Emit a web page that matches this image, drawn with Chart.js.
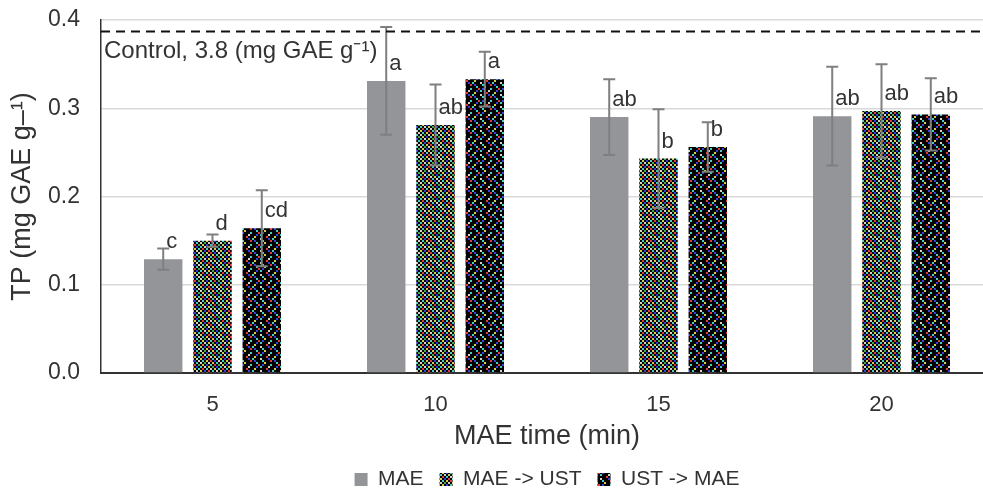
<!DOCTYPE html>
<html>
<head>
<meta charset="utf-8">
<script src="https://cdn.jsdelivr.net/npm/chart.js@4.4.1/dist/chart.umd.min.js"></script>
<style>
  html, body { margin: 0; padding: 0; background: #fff; overflow: hidden; }
  #wrap { width: 983px; height: 493px; overflow: hidden; }
</style>
</head>
<body>
<div id="wrap"><canvas id="tpChart" width="1100" height="500"></canvas></div>
<script>
const categories = ['5', '10', '15', '20'];
const seriesNames = ['MAE', 'MAE -> UST', 'UST -> MAE'];
const maeValues = [0.129, 0.331, 0.290, 0.291];
const maeUstValues = [0.150, 0.281, 0.243, 0.297];
const ustMaeValues = [0.164, 0.333, 0.256, 0.293];
const maeErrors = [0.012, 0.061, 0.043, 0.056];
const maeUstErrors = [0.007, 0.046, 0.056, 0.053];
const ustMaeErrors = [0.043, 0.031, 0.028, 0.041];
const maeLetters = ['c', 'a', 'ab', 'ab'];
const maeUstLetters = ['d', 'ab', 'b', 'ab'];
const ustMaeLetters = ['cd', 'a', 'b', 'ab'];
const yTicks = [0, 0.1, 0.2, 0.3, 0.4];
const controlValue = 0.387;
const controlText = 'Control, 3.8 (mg GAE g\u207B\u00B9)';

const FONT = "'Liberation Sans', Arial, sans-serif";
const TEXT = '#333333';

// little noisy tiles that mimic the coloured hatch of the original
const pal = { k: '#000000', c: '#45d0c4', y: '#d6cf45', r: '#e23a3a', b: '#3a3ee0', w: '#d9d2c4', g: '#3fae4a' };
function makePattern(rows) {
    const cell = 2;
    const c = document.createElement('canvas');
    c.width = rows[0].length * cell;
    c.height = rows.length * cell;
    const g = c.getContext('2d');
    rows.forEach((r, i) => {
        [...r].forEach((ch, j) => {
            g.fillStyle = pal[ch];
            g.fillRect(j * cell, i * cell, cell, cell);
        });
    });
    return g.createPattern(c, 'repeat');
}
const patA = makePattern([
    'kckykrkbkw',
    'wkgkwkykck',
    'kykbkckrkg',
    'ckwkykgkbk',
    'krkckwkykc',
    'ykbkrkckwk'
]);
const patB = makePattern([
    'kckkkrkbkk',
    'kkykkkkkck',
    'kbkkkckkkr',
    'ckkkwkkkbk',
    'kkkrkkkykk',
    'wkkkbkckkk'
]);

const errorSets = [maeErrors, maeUstErrors, ustMaeErrors];
const letterSets = [maeLetters, maeUstLetters, ustMaeLetters];

const extrasPlugin = {
    id: 'extras',
    afterDatasetsDraw(chart) {
        const ctx = chart.ctx;
        const y = chart.scales.y;
        const area = chart.chartArea;
        ctx.save();
        // error bars
        ctx.strokeStyle = '#7f7f7f';
        ctx.lineWidth = 2;
        chart.data.datasets.forEach((ds, di) => {
            const meta = chart.getDatasetMeta(di);
            meta.data.forEach((bar, i) => {
                const v = ds.data[i];
                const e = errorSets[di][i];
                const yt = y.getPixelForValue(v + e);
                const yb = y.getPixelForValue(v - e);
                ctx.beginPath();
                ctx.moveTo(bar.x, yt); ctx.lineTo(bar.x, yb);
                ctx.moveTo(bar.x - 6, yt); ctx.lineTo(bar.x + 6, yt);
                ctx.moveTo(bar.x - 6, yb); ctx.lineTo(bar.x + 6, yb);
                ctx.stroke();
            });
        });
        // significance letters
        ctx.fillStyle = TEXT;
        ctx.font = '22px ' + FONT;
        ctx.textAlign = 'left';
        ctx.textBaseline = 'alphabetic';
        chart.data.datasets.forEach((ds, di) => {
            const meta = chart.getDatasetMeta(di);
            meta.data.forEach((bar, i) => {
                ctx.fillText(letterSets[di][i], bar.x + 3, bar.y - 11);
            });
        });
        // control line
        const yc = y.getPixelForValue(controlValue);
        ctx.strokeStyle = '#111';
        ctx.lineWidth = 2;
        ctx.setLineDash([9, 6]);
        ctx.beginPath();
        ctx.moveTo(area.left, yc);
        ctx.lineTo(area.right, yc);
        ctx.stroke();
        ctx.setLineDash([]);
        ctx.font = '24px ' + FONT;
        ctx.fillText(controlText, area.left + 3, yc + 27);
        ctx.restore();
    }
};

const tpCtx = document.getElementById('tpChart').getContext('2d');
const tpChart = new Chart(tpCtx, {
    type: 'bar',
    data: {
        labels: categories,
        datasets: [
            { label: seriesNames[0], data: maeValues, backgroundColor: '#939598' },
            { label: seriesNames[1], data: maeUstValues, backgroundColor: patA },
            { label: seriesNames[2], data: ustMaeValues, backgroundColor: patB }
        ]
    },
    options: {
        responsive: false,
        animation: false,
        categoryPercentage: 0.663,
        barPercentage: 0.78,
        layout: { padding: { top: 20, right: 107, bottom: 0, left: 0 } },
        scales: {
            x: {
                grid: { display: false },
                border: { color: '#333', width: 2 },
                ticks: { color: TEXT, font: { family: FONT, size: 22 }, padding: 11 },
                title: { display: true, text: 'MAE time (min)', color: TEXT, font: { family: FONT, size: 27 }, padding: { top: 2, bottom: 0 } },
                afterFit(scale) { scale.height = 80; }
            },
            y: {
                min: 0,
                max: 0.4,
                grid: { color: '#d9d9d9', lineWidth: 1.5, drawTicks: true, tickLength: 19, tickColor: 'rgba(0,0,0,0)' },
                border: { color: '#333', width: 1.5 },
                afterBuildTicks(scale) { scale.ticks = yTicks.map(v => ({ value: v })); },
                ticks: {
                    color: TEXT,
                    font: { family: FONT, size: 23 },
                    padding: 2,
                    callback: v => v.toFixed(1)
                },
                title: { display: true, text: 'TP (mg GAE g\u2013\u00B9)', color: TEXT, font: { family: FONT, size: 27 }, padding: { top: 6, bottom: 0 } },
                afterFit(scale) { scale.width = 101; }
            }
        },
        plugins: {
            legend: {
                position: 'bottom',
                fullSize: false,
                labels: {
                    color: TEXT,
                    font: { family: FONT, size: 21 },
                    boxWidth: 13,
                    boxHeight: 13,
                    padding: 16
                }
            },
            tooltip: { enabled: false }
        }
    },
    plugins: [extrasPlugin]
});
</script>
</body>
</html>
